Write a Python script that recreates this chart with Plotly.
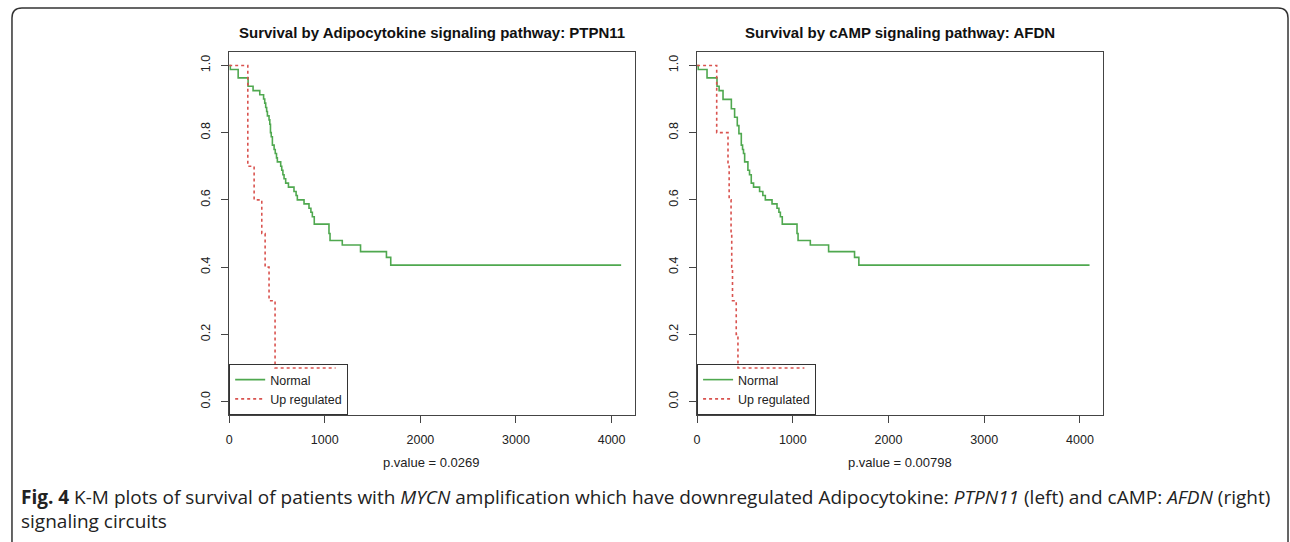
import plotly.graph_objects as go

# ---------------- data ----------------
# Left panel: Adipocytokine signaling pathway: PTPN11
left_normal_t = [0, 12, 94, 198, 250, 320, 360, 372, 382, 392, 400, 417, 425, 432, 440, 452, 470, 482, 495, 504,
                 539, 550, 562, 574, 591, 620, 678, 700, 713, 783, 835, 855, 870, 890, 1044, 1055, 1183, 1374,
                 1645, 1690, 4100]
left_normal_s = [1.0, 0.988, 0.963, 0.938, 0.925, 0.913, 0.900, 0.888, 0.875, 0.863, 0.850, 0.838, 0.825, 0.800,
                 0.788, 0.763, 0.750, 0.738, 0.725, 0.713, 0.700, 0.688, 0.675, 0.663, 0.650, 0.638, 0.625, 0.613,
                 0.600, 0.588, 0.575, 0.563, 0.550, 0.528, 0.500, 0.479, 0.466, 0.446, 0.429, 0.406, 0.406]
left_up_t = [0, 195, 261, 341, 376, 417, 480, 1113]
left_up_s = [1.0, 0.7, 0.6, 0.5, 0.4, 0.3, 0.1, 0.1]

# Right panel: cAMP signaling pathway: AFDN
right_normal_t = [0, 12, 104, 208, 230, 271, 358, 392, 420, 437, 462, 475, 485, 497, 531, 548, 566, 590, 653,
                  687, 713, 783, 835, 855, 870, 890, 1044, 1055, 1183, 1374, 1645, 1690, 4100]
right_normal_s = [1.0, 0.988, 0.963, 0.938, 0.925, 0.899, 0.871, 0.846, 0.821, 0.797, 0.763, 0.750, 0.738, 0.713,
                  0.688, 0.675, 0.650, 0.638, 0.625, 0.613, 0.600, 0.588, 0.575, 0.563, 0.550, 0.528, 0.500,
                  0.479, 0.466, 0.446, 0.429, 0.406, 0.406]
right_up_t = [0, 205, 323, 335, 355, 362, 370, 409, 427, 1121]
right_up_s = [1.0, 0.8, 0.7, 0.6, 0.5, 0.4, 0.3, 0.2, 0.1, 0.1]

titles = ["Survival by Adipocytokine signaling pathway: PTPN11",
          "Survival by cAMP signaling pathway: AFDN"]
pvalues = ["p.value = 0.0269", "p.value = 0.00798"]
group_names = ["Normal", "Up regulated"]
x_ticks = [0, 1000, 2000, 3000, 4000]
y_ticks = [0.0, 0.2, 0.4, 0.6, 0.8, 1.0]
caption_1 = ("<b>Fig. 4</b> K-M plots of survival of patients with <i>MYCN</i> amplification which have "
             "downregulated Adipocytokine: <i>PTPN11</i> (left) and cAMP: <i>AFDN</i> (right)")
caption_2 = "signaling circuits"

# ---------------- layout helpers ----------------
W, H = 1290, 542
def px(x):
    return x / W
def py(y):
    return 1 - y / H

GREEN = "#4fa84f"
RED = "#d9534f"
AXC = "#444444"
FONT = "Liberation Sans, Arial, sans-serif"

fig = go.Figure()

panels = [
    (left_normal_t, left_normal_s, left_up_t, left_up_s, "x", "y", "legend"),
    (right_normal_t, right_normal_s, right_up_t, right_up_s, "x2", "y2", "legend2"),
]
for nt, ns, ut, us, xa, ya, lg in panels:
    fig.add_trace(go.Scatter(x=nt, y=ns, mode="lines", line=dict(color=GREEN, width=1.6, shape="hv"),
                             name=group_names[0], xaxis=xa, yaxis=ya, legend=lg))
    fig.add_trace(go.Scatter(x=ut, y=us, mode="lines",
                             line=dict(color=RED, width=1.6, shape="hv", dash="3px,3px"),
                             name=group_names[1], xaxis=xa, yaxis=ya, legend=lg))

boxes = [(226.7, 633.0), (695.7, 1102.5)]
y_top, y_bot = 52, 415

axis_common = dict(showline=True, mirror=True, linecolor=AXC, linewidth=1, showgrid=False, zeroline=False,
                   ticks="outside", ticklen=7, tickcolor=AXC, tickwidth=1,
                   tickfont=dict(family=FONT, size=12.5, color="#222"))

layout = dict(
    width=W, height=H, margin=dict(l=0, r=0, t=0, b=0),
    paper_bgcolor="white", plot_bgcolor="white", showlegend=True,
)
for i, (x0, x1) in enumerate(boxes):
    sfx = "" if i == 0 else "2"
    layout["xaxis" + sfx] = dict(domain=[px(x0), px(x1)], range=[0, 4240], tickvals=x_ticks,
                                 anchor="y" + sfx, ticklabelstandoff=6, **axis_common)
    layout["yaxis" + sfx] = dict(domain=[py(y_bot), py(y_top)], range=[-0.04, 1.04], tickvals=y_ticks,
                                 ticktext=[f"{v:.1f}" for v in y_ticks], tickangle=-90,
                                 anchor="x" + sfx, ticklabelstandoff=6, **axis_common)
    layout["legend" + sfx] = dict(x=px(x0), y=py(y_bot), xanchor="left", yanchor="bottom",
                                  bgcolor="rgba(255,255,255,0)", bordercolor="#333", borderwidth=1,
                                  font=dict(family=FONT, size=12.5, color="#222"),
                                  tracegroupgap=0, itemwidth=30)
fig.update_layout(**layout)

ann = []
for i, (x0, x1) in enumerate(boxes):
    cx = (x0 + x1) / 2
    ann.append(dict(x=px(cx), y=py(33), xref="paper", yref="paper", text="<b>" + titles[i] + "</b>",
                    showarrow=False, xanchor="center", yanchor="middle",
                    font=dict(family=FONT, size=15, color="#111")))
    ann.append(dict(x=px(cx), y=py(462), xref="paper", yref="paper", text=pvalues[i],
                    showarrow=False, xanchor="center", yanchor="middle",
                    font=dict(family=FONT, size=13, color="#222")))
ann.append(dict(x=px(16), y=py(497), xref="paper", yref="paper", text=caption_1, showarrow=False,
                xanchor="left", yanchor="middle", font=dict(family="Open Sans, sans-serif", size=19, color="#222")))
ann.append(dict(x=px(16), y=py(521), xref="paper", yref="paper", text=caption_2, showarrow=False,
                xanchor="left", yanchor="middle", font=dict(family="Open Sans, sans-serif", size=19, color="#222")))
fig.update_layout(annotations=ann)

# outer rounded frame
fx0, fx1, fy0, fyb, r = px(9), px(1288), py(8), py(560), 10
rx, ry = r / W, r / H
path = (f"M {fx0},{fyb} L {fx0},{fy0 - ry} Q {fx0},{fy0} {fx0 + rx},{fy0} "
        f"L {fx1 - rx},{fy0} Q {fx1},{fy0} {fx1},{fy0 - ry} L {fx1},{fyb}")
fig.add_shape(type="path", path=path, xref="paper", yref="paper", line=dict(color="#333", width=1.5))

fig.write_html("out.html", config={"displayModeBar": False},
               post_script="document.body.style.margin='0';document.body.style.overflow='hidden';")
